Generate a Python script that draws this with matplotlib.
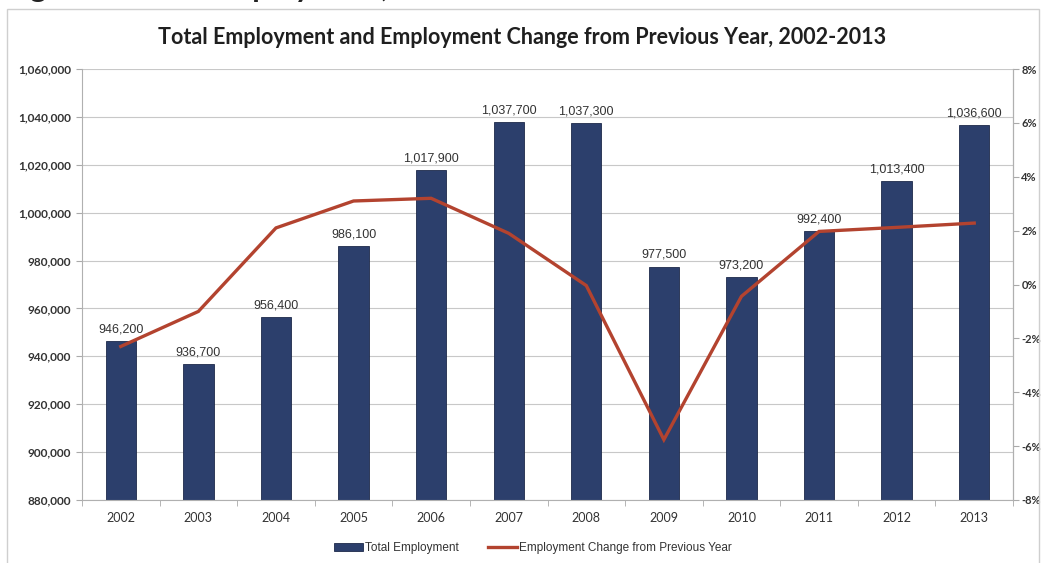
import numpy as np
import matplotlib.pyplot as plt
from matplotlib.ticker import FuncFormatter
from matplotlib.patches import Rectangle

# Employment totals and year-over-year change
years = ["2002", "2003", "2004", "2005", "2006", "2007",
         "2008", "2009", "2010", "2011", "2012", "2013"]
total_employment = [946200, 936700, 956400, 986100, 1017900, 1037700,
                    1037300, 977500, 973200, 992400, 1013400, 1036600]
pct_change = [-2.3, -1.0, 2.1, 3.1, 3.2, 1.9,
              -0.04, -5.76, -0.44, 1.97, 2.12, 2.28]

bar_color = "#2c3f6c"
line_color = "#b3432f"
text_color = "#333333"
grid_color = "#c8c8c8"

plt.rcParams['font.family'] = ['Lato', 'DejaVu Sans']

fig = plt.figure(figsize=(10.45, 5.63), dpi=100)

# Outer frame around the chart
fig.patches.append(Rectangle((7 / 1045, -0.05), 1032 / 1045, 1.05 - 9 / 563,
                             transform=fig.transFigure, fill=False,
                             edgecolor="#cfcfcf", linewidth=1.0))
# Heading above the frame, mostly cut off by the page edge
fig.text(0.005, 1.022, "Figure 2: Total Employment, 2002-2013", fontsize=22,
         fontweight="bold", color="#222222", ha="left", va="center")

ax = fig.add_axes([82 / 1045, 1 - 500 / 563, 931 / 1045, 431 / 563])
x = np.arange(len(years))

bars = ax.bar(x, total_employment, width=0.39, color=bar_color,
              edgecolor="#1d2a4a", linewidth=0.6, zorder=2)
ax.set_ylim(880000, 1060000)
ax.set_xlim(-0.5, len(years) - 0.5)
ax.set_yticks(np.arange(880000, 1060001, 20000))
ax.yaxis.set_major_formatter(FuncFormatter(lambda v, p: f"{int(v):,}"))
ax.grid(axis="y", color=grid_color, linewidth=0.8, zorder=0)
ax.set_xticks(x)
ax.set_xticklabels(years)
ax.set_xticks(np.arange(-0.5, len(years), 1), minor=True)
ax.tick_params(axis="x", which="major", length=0, pad=9, labelsize=9,
               labelcolor=text_color)
ax.tick_params(axis="x", which="minor", length=4, color="#aaaaaa")
ax.tick_params(axis="y", length=4, color="#aaaaaa", labelsize=8.5,
               labelcolor=text_color, pad=4)
for lbl in ax.get_yticklabels():
    lbl.set_fontweight("bold")
for side in ["left", "right", "bottom"]:
    ax.spines[side].set_color("#b0b0b0")
ax.spines["top"].set_visible(False)

for xi, val in zip(x, total_employment):
    ax.annotate(f"{val:,}", (xi, val), xytext=(0, 4), textcoords="offset points",
                ha="center", va="bottom", fontsize=9, color=text_color,
                family=["Liberation Sans", "DejaVu Sans"])

ax2 = ax.twinx()
line, = ax2.plot(x, pct_change, color=line_color, linewidth=2.4,
                 solid_joinstyle="miter", zorder=3)
ax2.set_ylim(-8, 8)
ax2.set_yticks(np.arange(-8, 9, 2))
ax2.yaxis.set_major_formatter(FuncFormatter(lambda v, p: f"{int(v)}%"))
ax2.tick_params(axis="y", length=4, color="#aaaaaa", labelsize=8,
                labelcolor=text_color, pad=2)
for lbl in ax2.get_yticklabels():
    lbl.set_fontweight("bold")
for side in ["left", "right", "bottom", "top"]:
    ax2.spines[side].set_visible(False)
ax2.spines["right"].set_visible(True)
ax2.spines["right"].set_color("#b0b0b0")

fig.text(0.5, 1 - 37 / 563, "Total Employment and Employment Change from Previous Year, 2002-2013",
         ha="center", va="center", fontsize=15.5, fontweight="bold", color="#1f1f1f")

leg = fig.legend([bars, line], ["Total Employment", "Employment Change from Previous Year"],
                 loc="center", bbox_to_anchor=(533 / 1045, 1 - 548 / 563), ncol=2,
                 frameon=False, handlelength=2.4, handletextpad=0.2,
                 columnspacing=2.5,
                 prop={"family": ["Liberation Sans", "DejaVu Sans"], "size": 8.5})
for t in leg.get_texts():
    t.set_color(text_color)

fig.savefig("out.png", dpi=100)
